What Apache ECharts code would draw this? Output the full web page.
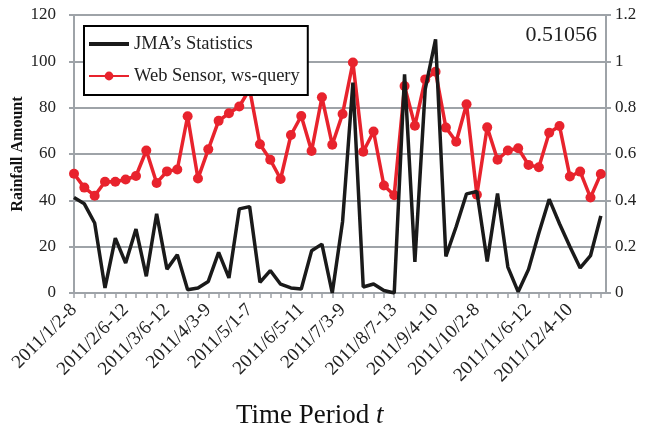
<!DOCTYPE html>
<html>
<head>
<meta charset="utf-8">
<script src="https://cdn.jsdelivr.net/npm/echarts@6/dist/echarts.min.js"></script>
<style>html,body{margin:0;padding:0;background:#fff}#c{width:645px;height:439px}</style>
</head>
<body>
<div id="c"></div>
<script>
// 52 weekly periods of 2011 (index 0 = 2011/1/2-8)
const tickLabels = {0:'2011/1/2-8',5:'2011/2/6-12',9:'2011/3/6-12',13:'2011/4/3-9',17:'2011/5/1-7',22:'2011/6/5-11',26:'2011/7/3-9',31:'2011/8/7-13',35:'2011/9/4-10',39:'2011/10/2-8',44:'2011/11/6-12',48:'2011/12/4-10'};
const jma = [41.2,38.5,30.2,2.2,23.7,12.9,27.6,7.2,34.2,10.3,16.5,1.4,2.2,5.0,17.5,6.5,36.3,37.3,4.6,9.7,3.8,2.2,1.7,18.2,21.1,0,30.9,90.8,2.6,3.9,1.1,0,94.4,13.4,88,109.5,15.8,28.7,42.8,43.8,13.6,42.9,11.2,0.5,10.2,25.9,40.5,29.9,20.1,10.8,16.1,33.3];
const ws = [0.515,0.455,0.42,0.48,0.48,0.49,0.505,0.615,0.475,0.525,0.533,0.763,0.494,0.62,0.743,0.776,0.805,0.88,0.642,0.575,0.492,0.682,0.764,0.613,0.845,0.64,0.773,0.995,0.61,0.697,0.464,0.422,0.893,0.722,0.922,0.955,0.714,0.653,0.815,0.424,0.715,0.575,0.615,0.625,0.553,0.543,0.692,0.721,0.503,0.524,0.412,0.514];
const corrText = '0.51056';

const serif = 'Liberation Serif';
const gray = '#9ea3a8';
const chart = echarts.init(document.getElementById('c'));
chart.setOption({
  animation: false,
  backgroundColor: '#fff',
  grid: {left: 74, right: 39, top: 15, bottom: 146, outerBoundsMode: 'none', containLabel: false,
    show: true, borderColor: gray, borderWidth: 2, backgroundColor: 'transparent'},
  legend: {
    orient: 'vertical', left: 84, top: 26,
    padding: [8, 8, 9, 4],
    itemWidth: 40, itemHeight: 11, itemGap: 12,
    backgroundColor: '#fff', borderColor: '#000', borderWidth: 2, borderRadius: 0,
    textStyle: {fontFamily: serif, fontSize: 18.5, color: '#222', lineHeight: 20},
    data: [
      {name: 'JMA\u2019s Statistics', icon: 'path://M0,0h40v4h-40z'},
      {name: 'Web Sensor, ws-query'}
    ]
  },
  xAxis: {
    type: 'value', min: 0, max: 51.5, interval: 1,
    axisLine: {show: true, lineStyle: {color: gray, width: 2}},
    axisTick: {show: true, length: 5, lineStyle: {color: gray, width: 1.5}},
    splitLine: {show: false},
    axisLabel: {
      rotate: 45, margin: 14, fontFamily: serif, fontSize: 19, color: '#222',
      showMaxLabel: false,
      formatter: v => tickLabels[v] || ''
    }
  },
  yAxis: [{
    type: 'value', min: 0, max: 120, interval: 20,
    name: 'Rainfall Amount', nameLocation: 'middle', nameGap: 48, nameMoveOverlap: false,
    nameTextStyle: {fontFamily: serif, fontSize: 16, fontWeight: 'bold', color: '#111'},
    axisLine: {show: true, lineStyle: {color: gray, width: 2}},
    axisTick: {show: true, length: 5, lineStyle: {color: gray, width: 2}},
    splitLine: {show: true, lineStyle: {color: gray, width: 2}},
    axisLabel: {fontFamily: serif, fontSize: 17, color: '#222', margin: 18}
  }, {
    type: 'value', min: 0, max: 1.2, interval: 0.2, position: 'right',
    axisLine: {show: true, lineStyle: {color: gray, width: 2}},
    axisTick: {show: true, length: 5, lineStyle: {color: gray, width: 2}},
    splitLine: {show: false},
    axisLabel: {fontFamily: serif, fontSize: 17, color: '#222', margin: 9,
      formatter: v => String(Math.round(v * 10) / 10)}
  }],
  series: [{
    name: 'JMA\u2019s Statistics', type: 'line', yAxisIndex: 0,
    data: jma.map((v, i) => [i, v]),
    showSymbol: false, symbol: 'none',
    lineStyle: {color: '#1a1a1a', width: 3.5}, itemStyle: {color: '#1a1a1a'}, z: 3
  }, {
    name: 'Web Sensor, ws-query', type: 'line', yAxisIndex: 1,
    data: ws.map((v, i) => [i, v]),
    symbol: 'circle', symbolSize: 10,
    lineStyle: {color: '#e8232d', width: 3.5}, itemStyle: {color: '#e8232d'}, z: 2
  }],
  graphic: [{
    type: 'text', right: 48, top: 24,
    style: {text: corrText, fontFamily: serif, fontSize: 22, fill: '#222'}
  }, {
    type: 'text', left: 236, top: 402,
    style: {
      text: '{a|Time Period }{b|t}',
      rich: {
        a: {fontFamily: serif, fontSize: 27, fill: '#111', color: '#111'},
        b: {fontFamily: serif, fontSize: 27, fontStyle: 'italic', fill: '#111', color: '#111'}
      }
    }
  }]
});
</script>
</body>
</html>
